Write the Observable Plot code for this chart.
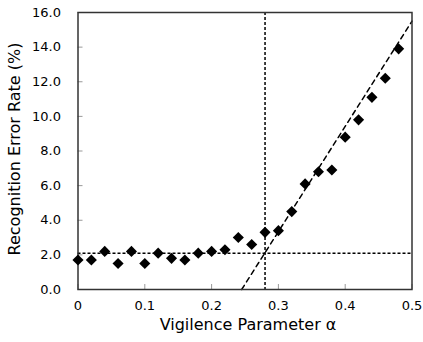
<!DOCTYPE html>
<html>
<head>
<meta charset="utf-8">
<script src="https://cdn.jsdelivr.net/npm/d3@7"></script>
<script src="https://cdn.jsdelivr.net/npm/@observablehq/plot@0.6"></script>
<style>
body { margin: 0; background: #fff; }
svg { font-family: "DejaVu Sans", Verdana, sans-serif; }
</style>
</head>
<body>
<div id="chart"></div>
<script>
const alphas = [0, 0.02, 0.04, 0.06, 0.08, 0.10, 0.12, 0.14, 0.16, 0.18, 0.20, 0.22, 0.24, 0.26, 0.28, 0.30, 0.32, 0.34, 0.36, 0.38, 0.40, 0.42, 0.44, 0.46, 0.48];
const errorRates = [1.7, 1.7, 2.2, 1.5, 2.2, 1.5, 2.1, 1.8, 1.7, 2.1, 2.2, 2.3, 3.0, 2.6, 3.3, 3.4, 4.5, 6.1, 6.8, 6.9, 8.8, 9.8, 11.1, 12.2, 13.9];
const baseline = 2.1;
const threshold = 0.28;
const fitLine = [{a: 0.245, e: 0}, {a: 0.5, e: 15.5}];
const xTicks = [0, 0.1, 0.2, 0.3, 0.4, 0.5];
const yTicks = [0, 2, 4, 6, 8, 10, 12, 14, 16];

const data = alphas.map((a, i) => ({a, e: errorRates[i]}));

const chart = Plot.plot({
  width: 423,
  height: 342,
  marginLeft: 77.5,
  marginRight: 11.5,
  marginTop: 12,
  marginBottom: 53,
  style: {fontFamily: "DejaVu Sans, Verdana, sans-serif", fontSize: "13px", color: "#000"},
  x: {domain: [0, 0.5]},
  y: {domain: [0, 16]},
  marks: [
    Plot.axisX({ticks: xTicks, tickSize: -5, stroke: "#999", tickFormat: d => d === 0 ? "0" : d3.format(".1f")(d), tickPadding: 16, fontSize: 13, label: null}),
    Plot.axisY({ticks: yTicks, tickSize: -5, stroke: "#999", tickFormat: d3.format(".1f"), tickPadding: 22, fontSize: 13, label: null}),
    Plot.ruleY([baseline], {stroke: "#000", strokeWidth: 1.5, strokeDasharray: "3,2"}),
    Plot.ruleX([threshold], {stroke: "#000", strokeWidth: 1.5, strokeDasharray: "3,2"}),
    Plot.line(fitLine, {x: "a", y: "e", stroke: "#000", strokeWidth: 1.5, strokeDasharray: "5,4"}),
    Plot.frame({stroke: "#333", strokeWidth: 1.5}),
    Plot.dot(data, {x: "a", y: "e", symbol: "diamond2", r: 5, fill: "#000", stroke: "none"}),
    Plot.text(["Vigilence Parameter α"], {frameAnchor: "bottom", dx: 3, dy: 40, fontSize: 16, textAnchor: "middle"}),
    Plot.text(["Recognition Error Rate (%)"], {frameAnchor: "left", dx: -63, dy: -2, rotate: -90, fontSize: 16, textAnchor: "middle"})
  ]
});
document.getElementById("chart").appendChild(chart);
</script>
</body>
</html>
